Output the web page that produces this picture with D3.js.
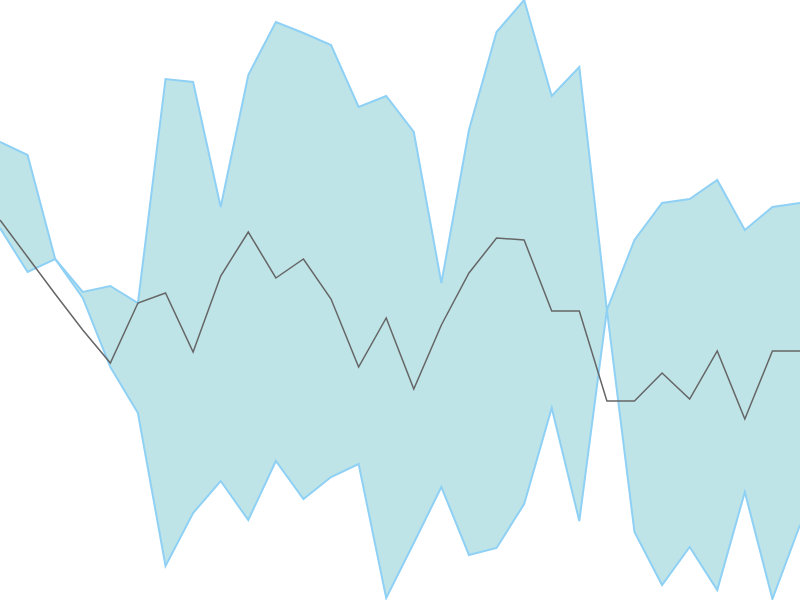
<!DOCTYPE html>
<html>
<head>
<meta charset="utf-8">
<script src="https://cdn.jsdelivr.net/npm/d3@7"></script>
<style>
  html, body { margin: 0; padding: 0; background: #fff; }
  svg { display: block; }
</style>
</head>
<body>
<div id="chart"></div>
<script>
var width = 800,
    height = 600;

// band upper / lower bounds and the middle line, one value per step
var upper = [458, 445, 341, 308, 314, 297, 521, 518, 393, 525, 578, 567, 555, 493, 504,
             468, 317, 470, 568, 600, 504, 533, 290, 360, 397, 401, 420, 370, 393, 397];
var lower = [372, 328, 341, 302, 233, 187, 34, 87, 119, 80, 139, 101, 123, 136, 2,
             57, 113, 45, 52, 96, 192, 79, 290, 68, 15, 53, 10, 108, 1, 75];
var mid = [380, 343, 306, 270, 237, 297, 307, 248, 324, 368, 322, 341, 301, 233, 282,
           211, 275, 327, 362, 360, 289, 289, 199, 199, 227, 201, 249, 181, 249, 249];

var idx = d3.range(mid.length);

var svg = d3.select("#chart")
    .append("svg")
    .attr("width", width)
    .attr("height", height);

var x = d3.scaleLinear()
    .domain([0, idx.length - 1])
    .range([0, width]);

var y = d3.scaleLinear()
    .domain([0, 600])
    .range([height, 0]);

// band fill
var area = d3.area()
    .x(function (i) { return x(i); })
    .y0(function (i) { return y(lower[i]); })
    .y1(function (i) { return y(upper[i]); });

svg.append("path")
    .datum(idx)
    .attr("d", area)
    .attr("fill", "#bee4e8");

// band edges
function edge(arr) {
    return d3.line()
        .x(function (i) { return x(i); })
        .y(function (i) { return y(arr[i]); });
}

[upper, lower].forEach(function (arr) {
    svg.append("path")
        .datum(idx)
        .attr("d", edge(arr))
        .attr("fill", "none")
        .attr("stroke", "#8fd0f5")
        .attr("stroke-width", 2);
});

// middle line
svg.append("path")
    .datum(idx)
    .attr("d", edge(mid))
    .attr("fill", "none")
    .attr("stroke", "#666")
    .attr("stroke-width", 1.5);
</script>
</body>
</html>
